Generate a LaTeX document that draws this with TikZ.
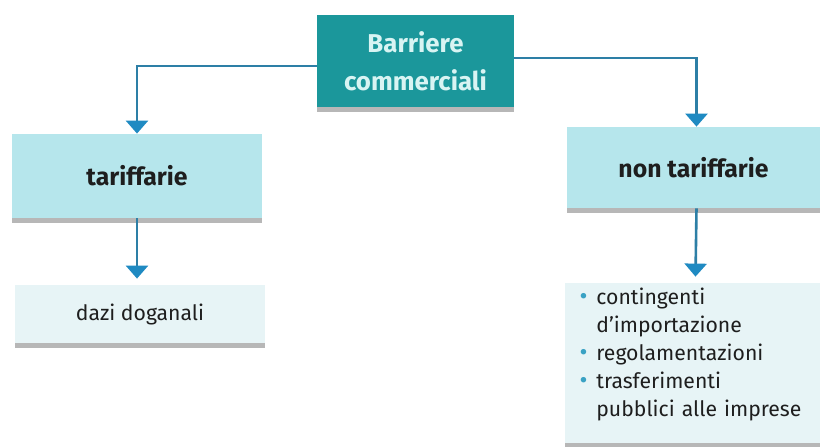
\documentclass[tikz,border=0pt]{standalone}
\usepackage{fontspec}
\setmainfont{Fira Sans}
\usetikzlibrary{arrows.meta,shadows}
\definecolor{teal1}{HTML}{1B979B}
\definecolor{toptext}{HTML}{D8F4F3}
\definecolor{cyanbox}{HTML}{B6E6EC}
\definecolor{palebox}{HTML}{E7F4F6}
\definecolor{linec}{HTML}{2D7FA6}
\definecolor{headc}{HTML}{1F8AC2}
\definecolor{bulc}{HTML}{3AA2C4}
\definecolor{txt}{HTML}{1E1E1E}
\newcommand{\mybul}{\textcolor{bulc}{\raisebox{0.05ex}{\scalebox{1.15}{\textbullet}}}}
\begin{document}
\begin{tikzpicture}[x=0.5pt,y=-0.5pt,
  boxbase/.style={draw=none,inner sep=0pt,align=center,
    drop shadow={shadow xshift=0pt,shadow yshift=-2.5pt,fill=black!40,opacity=0.7}},
  topbox/.style={boxbase,fill=teal1,text=toptext,font=\bfseries\fontsize{12.9}{19}\selectfont,
    minimum width=98.5pt,minimum height=46pt},
  midbox/.style={boxbase,fill=cyanbox,text=txt,font=\bfseries\fontsize{12.4}{14}\selectfont},
  lowbox/.style={boxbase,fill=palebox,text=txt,font=\fontsize{10.6}{14}\selectfont},
  conn/.style={draw=linec,line width=1.3pt,-{Triangle[width=11pt,length=6.5pt,color=headc]}}
]
\useasboundingbox (0,0) rectangle (820,446);
\fill[white] (0,0) rectangle (820,446);

\node[topbox] (top) at (415.5,61) {Barriere\\commerciali};
\node[midbox,minimum width=125pt,minimum height=42pt] (tar) at (137,176) {tariffarie};
\node[midbox,minimum width=126.5pt,minimum height=40.5pt] (non) at (693.5,167.5) {non tariffarie};
\node[lowbox,minimum width=125pt,minimum height=29pt] (dazi) at (140,314) {dazi doganali};
\node[lowbox,minimum width=127.5pt,minimum height=80pt,align=left,text width=113pt,inner xsep=7pt] (lst) at (692.5,363)
 {\begin{tabular}{@{}l@{\hspace{4.5pt}}l@{}}
  \mybul & contingenti\\
         & d’importazione\\
  \mybul & regolamentazioni\\
  \mybul & trasferimenti\\
         & pubblici alle imprese\\[8pt]
  \end{tabular}};

\draw[conn] ([yshift=-2.5pt]top.west) -| (tar.north);
\draw[conn] ([yshift=1.5pt]top.east) -| ([xshift=1.5pt]non.north);
\draw[conn] (tar.south) -- ([yshift=3pt]tar.south |- dazi.north);
\draw[conn] ([xshift=1.5pt]non.south) -- ([xshift=1.5pt,yshift=3pt]lst.north);
\end{tikzpicture}
\end{document}
